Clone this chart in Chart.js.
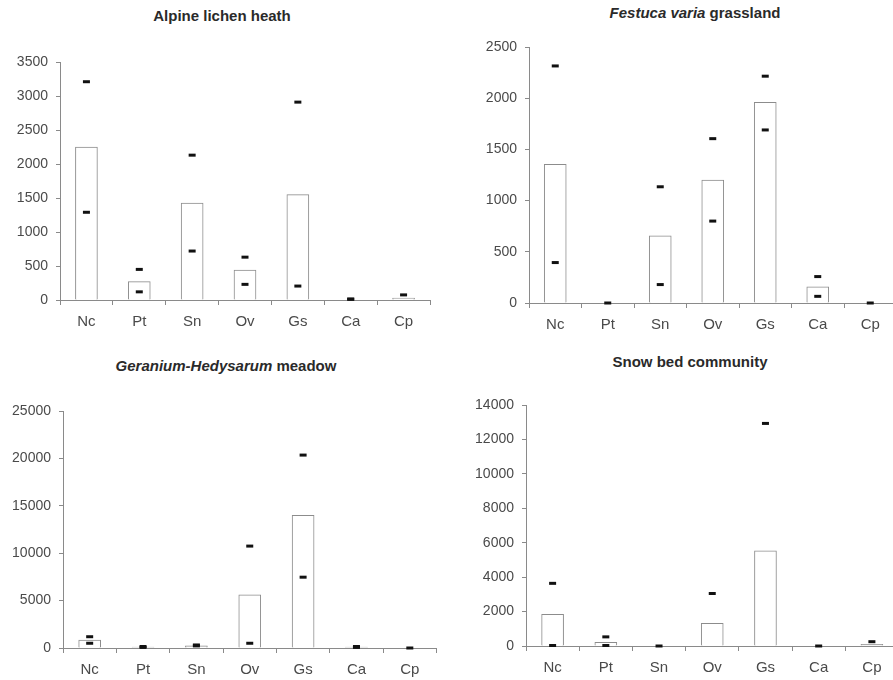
<!DOCTYPE html>
<html>
<head>
<meta charset="utf-8">
<script src="https://cdn.jsdelivr.net/npm/chart.js@4/dist/chart.umd.min.js"></script>
<style>
  html, body { margin: 0; padding: 0; background: #fff; overflow: hidden; }
  body { width: 893px; height: 680px; position: relative; }
  canvas { position: absolute; }
  .title {
    position: absolute; transform: translate(-50%, -50%);
    font-family: "Liberation Sans", Arial, sans-serif; font-weight: bold;
    font-size: 15px; color: #2a2a2a; white-space: nowrap;
  }
</style>
</head>
<body>
<div class="title" style="left:222px; top:15px">Alpine lichen heath</div>
<div class="title" style="left:695px; top:12px"><i>Festuca varia</i> grassland</div>
<div class="title" style="left:226px; top:365px"><i>Geranium-Hedysarum</i> meadow</div>
<div class="title" style="left:690px; top:361px">Snow bed community</div>

<canvas id="lichen" width="443" height="340" style="left:0; top:0"></canvas>
<canvas id="festuca" width="460" height="340" style="left:443px; top:0"></canvas>
<canvas id="geranium" width="443" height="340" style="left:0; top:340px"></canvas>
<canvas id="snowbed" width="462" height="340" style="left:443px; top:340px"></canvas>

<script>
const categories = ['Nc', 'Pt', 'Sn', 'Ov', 'Gs', 'Ca', 'Cp'];

// Alpine lichen heath
const lichenMean = [2250, 270, 1425, 440, 1550, 0, 30];
const lichenHigh = [3210, 450, 2130, 630, 2910, 15, 75];
const lichenLow  = [1290, 120, 720, 230, 205, 10, null];

// Festuca varia grassland
const festucaMean = [1355, 0, 655, 1200, 1960, 158, 0];
const festucaHigh = [2315, 0, 1135, 1605, 2215, 258, 0];
const festucaLow  = [395, null, 180, 800, 1690, 65, null];

// Geranium-Hedysarum meadow
const geraniumMean = [830, 100, 220, 5620, 14000, 100, 0];
const geraniumHigh = [1190, 160, 320, 10750, 20350, 160, 0];
const geraniumLow  = [500, 60, 220, 500, 7470, 60, null];

// Snow bed community
const snowMean = [1840, 220, 0, 1310, 5530, 0, 90];
const snowHigh = [3640, 530, 0, 3050, 12930, 0, 250];
const snowLow  = [30, 30, null, null, null, null, null];

const textColor = '#4a4a4a';
const axisColor = '#8a8a8a';

function makePanel(id, mean, high, low, yMax, yStep, pad, yWidth, xHeight) {
    const ctx = document.getElementById(id).getContext('2d');
    const marker = (vals) => ({
        type: 'line',
        data: vals,
        showLine: false,
        pointStyle: 'line',
        pointRadius: 3.5,
        pointHoverRadius: 3.5,
        pointBorderWidth: 3,
        borderColor: '#111',
        backgroundColor: '#111',
        clip: false,
        order: 1
    });

    return new Chart(ctx, {
        type: 'bar',
        data: {
            labels: categories,
            datasets: [
                {
                    data: mean,
                    backgroundColor: '#fff',
                    borderColor: '#8c8c8c',
                    borderWidth: 1,
                    barThickness: 22,
                    order: 2
                },
                marker(high),
                marker(low)
            ]
        },
        options: {
            responsive: false,
            animation: false,
            layout: { padding: pad },
            plugins: { legend: { display: false }, tooltip: { enabled: false } },
            scales: {
                x: {
                    grid: { offset: true, drawOnChartArea: false, tickLength: 5, color: axisColor },
                    border: { color: axisColor },
                    ticks: { color: textColor, padding: 8, font: { family: 'Liberation Sans', size: 15 } },
                    afterFit: (s) => { s.height = xHeight; }
                },
                y: {
                    min: 0,
                    max: yMax,
                    grid: { drawOnChartArea: false, tickLength: 4, color: axisColor },
                    border: { color: axisColor },
                    ticks: {
                        stepSize: yStep, color: textColor, padding: 8,
                        font: { family: 'Liberation Sans', size: 14 },
                        callback: (v) => String(v)
                    },
                    afterFit: (s) => { s.width = yWidth; }
                }
            }
        }
    });
}

makePanel('lichen', lichenMean, lichenHigh, lichenLow, 3500, 500,
    { left: 0, top: 62, right: 13, bottom: 0 }, 60, 40);
makePanel('festuca', festucaMean, festucaHigh, festucaLow, 2500, 500,
    { left: 0, top: 47, right: 0, bottom: 0 }, 86, 37);
makePanel('geranium', geraniumMean, geraniumHigh, geraniumLow, 25000, 5000,
    { left: 0, top: 71, right: 4, bottom: 0 }, 63, 32);
makePanel('snowbed', snowMean, snowHigh, snowLow, 14000, 2000,
    { left: 0, top: 65, right: 0, bottom: 0 }, 83, 34);
</script>
</body>
</html>
